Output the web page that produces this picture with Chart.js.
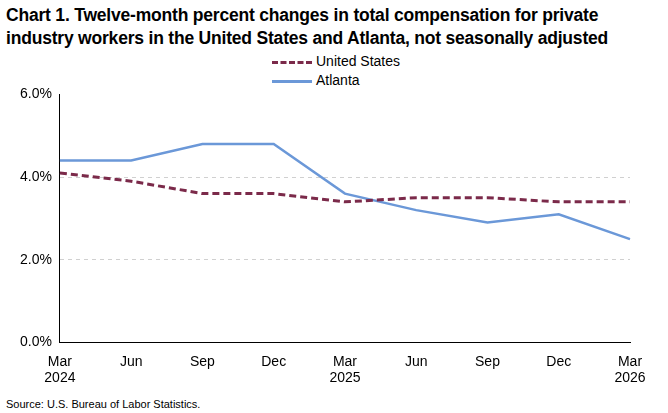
<!DOCTYPE html>
<html>
<head>
<meta charset="utf-8">
<script src="https://cdn.jsdelivr.net/npm/chart.js@4"></script>
<style>
  body { margin: 0; background: #fff; }
  #wrap { position: relative; width: 668px; height: 413px; font-family: "Liberation Sans", Arial, sans-serif; }
  #title { position: absolute; left: 6px; top: 4px; font-weight: bold; font-size: 17.5px; line-height: 23px; color: #000; letter-spacing: -0.2px; }
  #legend { position: absolute; left: 272px; top: 52px; font-size: 14px; color: #000; line-height: 19px; }
  #legend .sw { display: inline-block; width: 40px; height: 0; vertical-align: middle; margin-right: 4px; }
  #source { position: absolute; left: 6px; top: 398px; font-size: 11px; color: #000; }
  #chartBox { position: absolute; left: 0; top: 78px; width: 668px; height: 312px; }
</style>
</head>
<body>
<div id="wrap">
  <div id="title">Chart 1. Twelve-month percent changes in total compensation for private<br>industry workers in the United States and Atlanta, not seasonally adjusted</div>
  <div id="legend">
    <div><span class="sw" style="border-top:3px dashed #7b2a4a"></span>United States</div>
    <div><span class="sw" style="border-top:3px solid #6b98d8"></span>Atlanta</div>
  </div>
  <div id="chartBox"><canvas id="chart"></canvas></div>
  <div id="source">Source: U.S. Bureau of Labor Statistics.</div>
</div>
<script>
// Chart data
const categories = [['Mar', '2024'], 'Jun', 'Sep', 'Dec', ['Mar', '2025'], 'Jun', 'Sep', 'Dec', ['Mar', '2026']];
const unitedStates = [4.1, 3.9, 3.6, 3.6, 3.4, 3.5, 3.5, 3.4, 3.4];
const atlanta = [4.4, 4.4, 4.8, 4.8, 3.6, 3.2, 2.9, 3.1, 2.5];
const yTicks = [0, 2, 4, 6];

const ctx = document.getElementById('chart').getContext('2d');
const chart = new Chart(ctx, {
    type: 'line',
    data: {
        labels: categories,
        datasets: [{
            label: 'United States',
            data: unitedStates,
            borderColor: '#7b2a4a',
            borderWidth: 3,
            borderDash: [7, 4],
            pointRadius: 0,
            tension: 0
        }, {
            label: 'Atlanta',
            data: atlanta,
            borderColor: '#6b98d8',
            borderWidth: 2.5,
            pointRadius: 0,
            tension: 0
        }]
    },
    options: {
        responsive: true,
        maintainAspectRatio: false,
        animation: false,
        layout: { padding: { left: 12, right: 38, top: 8, bottom: 0 } },
        plugins: {
            tooltip: { enabled: false },
            legend: { display: false }
        },
        scales: {
            x: {
                grid: { display: false },
                border: { color: '#000', width: 1 },
                ticks: { color: '#000', maxRotation: 0, font: { size: 14, family: 'Liberation Sans, Arial' } }
            },
            y: {
                min: 0,
                max: 6,
                afterBuildTicks: (s) => { s.ticks = yTicks.map(v => ({ value: v })); },
                grid: {
                    color: (c) => (c.tick && (c.tick.value === 2 || c.tick.value === 4)) ? '#d0d0d0' : 'rgba(0,0,0,0)',
                    drawTicks: false
                },
                border: { color: '#000', width: 1, dash: [4, 4] },
                ticks: {
                    color: '#000',
                    padding: 8,
                    font: { size: 14, family: 'Liberation Sans, Arial' },
                    callback: (v) => v.toFixed(1) + '%'
                }
            }
        }
    }
});
</script>
</body>
</html>
